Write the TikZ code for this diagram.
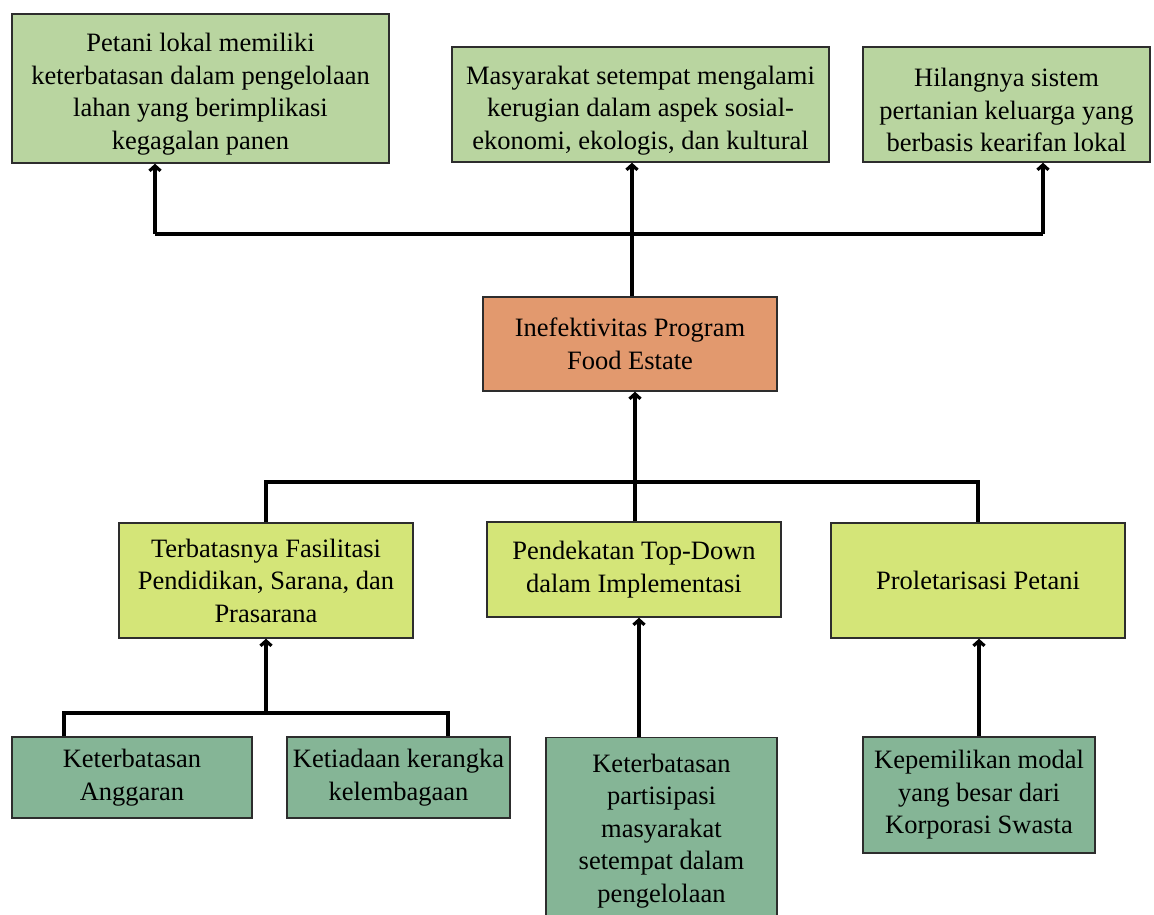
\documentclass[tikz,border=0pt]{standalone}
\usepackage{fontspec}
\setmainfont{Liberation Serif}
\usetikzlibrary{arrows.meta}
\definecolor{topgreen}{RGB}{185,213,160}
\definecolor{midorange}{RGB}{226,153,110}
\definecolor{lime}{RGB}{212,229,120}
\definecolor{teal}{RGB}{133,181,150}
\definecolor{edge}{RGB}{45,45,45}
\newcommand{\topstrut}{\rule{0pt}{30pt}}
\tikzset{
  box/.style={draw=edge, line width=1.4pt, inner sep=0pt, align=center,
    font=\fontsize{26.5}{32.5}\selectfont},
  topbox/.style={box, fill=topgreen},
  midbox/.style={box, fill=midorange},
  limebox/.style={box, fill=lime},
  tealbox/.style={box, fill=teal},
  ln/.style={line width=3.2pt, black},
  arr/.style={ln, -{Straight Barb[length=5pt,width=11pt]}},
}
\begin{document}
\begin{tikzpicture}[x=1pt,y=-1pt]
\useasboundingbox (0,0) rectangle (1154,914);
% top row
\node[topbox, minimum width=377pt, minimum height=149pt] (A) at (200.5,88.5)
  {\topstrut Petani lokal memiliki\\keterbatasan dalam pengelolaan\\lahan yang berimplikasi\\kegagalan panen};
\node[topbox, minimum width=377pt, minimum height=115pt] (B) at (640.5,104.5)
  {\topstrut Masyarakat setempat mengalami\\kerugian dalam aspek sosial-\\ekonomi, ekologis, dan kultural};
\node[topbox, minimum width=287pt, minimum height=115pt] (C) at (1006.5,104.5)
  {\topstrut Hilangnya sistem\\pertanian keluarga yang\\berbasis kearifan lokal};
% middle
\node[midbox, minimum width=294pt, minimum height=94pt] (M) at (630,344)
  {Inefektivitas Program\\Food Estate};
% second row
\node[limebox, minimum width=294pt, minimum height=115pt] (T) at (266,580.5)
  {Terbatasnya Fasilitasi\\Pendidikan, Sarana, dan\\Prasarana};
\node[limebox, minimum width=294pt, minimum height=95pt] (D) at (634,569.5)
  {Pendekatan Top-Down\\dalam Implementasi};
\node[limebox, minimum width=294pt, minimum height=115pt] (P) at (978,580.5)
  {Proletarisasi Petani};
% bottom row
\node[tealbox, minimum width=240pt, minimum height=81pt] (KA) at (132,777.5)
  {Keterbatasan\\Anggaran};
\node[tealbox, minimum width=223pt, minimum height=81pt] (KK) at (398.5,777.5)
  {Ketiadaan kerangka\\kelembagaan};
\node[tealbox, minimum width=231pt, minimum height=186pt, anchor=north] (KP) at (661.5,737)
  {Keterbatasan\\partisipasi\\masyarakat\\setempat dalam\\pengelolaan};
\node[tealbox, minimum width=232pt, minimum height=116pt] (KM) at (979,795)
  {Kepemilikan modal\\yang besar dari\\Korporasi Swasta};
% junction coordinates
\coordinate (tl) at (155,234);
\coordinate (tr) at (1043,234);
\coordinate (tm) at (632,234);
\coordinate (ml) at (266,482);
\coordinate (mr) at (978,482);
\coordinate (mm) at (635,482);
\coordinate (bl) at (64,713);
\coordinate (br) at (448,713);
\coordinate (bm) at (266,713);
\coordinate (pm) at (639,700);
% upper connectors
\draw[ln] (tl) -- (tr);
\draw[arr] (tl) -- (A.south -| tl);
\draw[arr] (tr) -- (C.south -| tr);
\draw[arr] (M.north -| tm) -- (B.south -| tm);
% middle connectors
\draw[ln] (T.north) -- (ml) -- (mr) -- (P.north);
\draw[arr] (D.north -| mm) -- (M.south -| mm);
% lower connectors
\draw[ln] (KA.north -| bl) -- (bl) -- (br) -- (KK.north -| br);
\draw[arr] (bm) -- (T.south -| bm);
\draw[arr] (KP.north -| pm) -- (D.south -| pm);
\draw[arr] (KM.north) -- (P.south -| KM.north);
\end{tikzpicture}
\end{document}
